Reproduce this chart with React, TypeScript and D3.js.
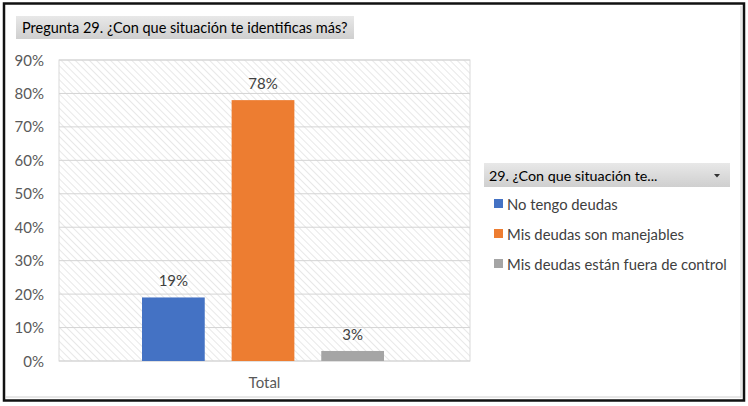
import React from "react";
import * as d3 from "d3";

const categories = ["Total"];
const seriesNames = ["No tengo deudas", "Mis deudas son manejables", "Mis deudas están fuera de control"];
const seriesValues = [0.19, 0.78, 0.03];
const seriesColors = ["#4472C4", "#ED7D31", "#A5A5A5"];
const yTicks = [0, 0.1, 0.2, 0.3, 0.4, 0.5, 0.6, 0.7, 0.8, 0.9];
const titleText = "Pregunta 29. ¿Con que situación te identificas más?";
const legendTitle = "29. ¿Con que situación te...";

export default function App() {
  const W = 748, H = 406;
  const plot = { left: 59, right: 470, top: 60, bottom: 361 };
  const y = d3.scaleLinear().domain([0, 0.9]).range([plot.bottom, plot.top]);
  const x0 = d3.scaleBand().domain(categories).range([plot.left, plot.right]).paddingInner(0).paddingOuter(0.2);
  const x1 = d3.scaleBand().domain(seriesNames).range([142 - x0("Total")!, 384 - x0("Total")!]).paddingInner(0.3);
  const font = "Lato, 'Open Sans', sans-serif";
  const fmt = d3.format(".0%");
  return (
    <svg width={W} height={H} style={{ position: "absolute", left: 0, top: 0 }} xmlns="http://www.w3.org/2000/svg">
      <defs>
        <pattern id="hatch" width="5" height="5" patternUnits="userSpaceOnUse" patternTransform="rotate(-45)">
          <rect width="5" height="5" fill="#ffffff" />
          <line x1="0" y1="0" x2="0" y2="5" stroke="#d9d9d9" strokeWidth="1.2" />
        </pattern>
        <linearGradient id="gbox" x1="0" y1="0" x2="0" y2="1">
          <stop offset="0" stopColor="#e8e8e8" />
          <stop offset="1" stopColor="#cfcfcf" />
        </linearGradient>
      </defs>
      <rect x={0} y={0} width={W} height={H} fill="#ffffff" />
      <rect x={4} y={3.5} width={740} height={397} fill="#ffffff" stroke="#111" strokeWidth={2.5} />
      <line x1={741} y1={6} x2={741} y2={398} stroke="#d0d0d0" strokeWidth={1} />
      <line x1={6} y1={397} x2={741} y2={397} stroke="#d0d0d0" strokeWidth={1} />

      {/* title */}
      <rect x={16} y={16} width={338} height={23} fill="url(#gbox)" />
      <text x={22} y={33} fontFamily={font} fontSize={14.5} fill="#000">{titleText}</text>

      {/* plot area */}
      <rect x={plot.left} y={plot.top} width={plot.right - plot.left} height={plot.bottom - plot.top} fill="url(#hatch)" stroke="#d9d9d9" strokeWidth={1} />
      {yTicks.map((t) => (
        <g key={t}>
          <line x1={plot.left} x2={plot.right} y1={y(t)} y2={y(t)} stroke="#d4d4d4" strokeWidth={1} />
          <text x={44} y={y(t) + 5.5} textAnchor="end" fontFamily={font} fontSize={15} fill="#595959">{fmt(t)}</text>
        </g>
      ))}

      {categories.map((c) => (
        <g key={c} transform={`translate(${x0(c)},0)`}>
          {seriesNames.map((s, i) => (
            <g key={s}>
              <rect x={x1(s)} y={y(seriesValues[i])} width={x1.bandwidth()} height={plot.bottom - y(seriesValues[i])} fill={seriesColors[i]} />
              <text x={x1(s)! + x1.bandwidth() / 2} y={y(seriesValues[i]) - 11} textAnchor="middle" fontFamily={font} fontSize={15} fill="#404040">{fmt(seriesValues[i])}</text>
            </g>
          ))}
          <text x={x0.bandwidth() / 2} y={388} textAnchor="middle" fontFamily={font} fontSize={15} fill="#595959">{c}</text>
        </g>
      ))}

      {/* legend */}
      <rect x={484} y={163} width={246} height={24} fill="url(#gbox)" />
      <text x={489} y={180.5} fontFamily={font} fontSize={14.3} fill="#000">{legendTitle}</text>
      <path d="M714,174 l6,0 l-3,3.5 z" fill="#333" />
      {seriesNames.map((s, i) => (
        <g key={s} transform={`translate(0,${204 + i * 30})`}>
          <rect x={494} y={-5} width={9} height={9} fill={seriesColors[i]} />
          <text x={507} y={5.5} fontFamily={font} fontSize={14.8} fill="#404040">{s}</text>
        </g>
      ))}
    </svg>
  );
}
